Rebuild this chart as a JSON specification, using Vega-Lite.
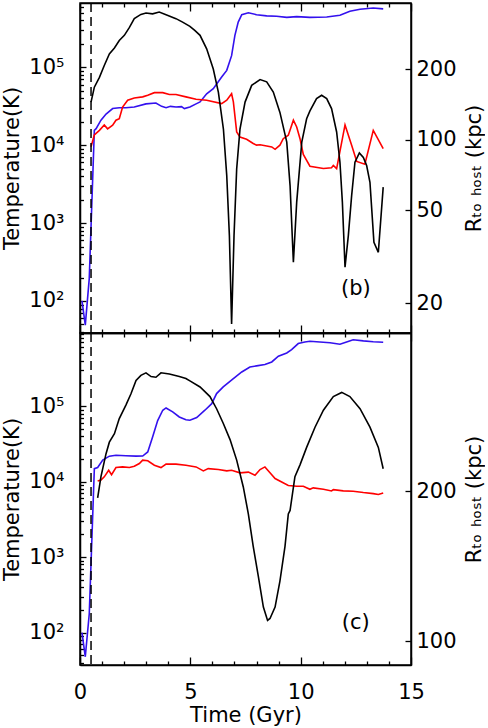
{
"$schema": "https://vega.github.io/schema/vega-lite/v6.json",
"autosize": {"type": "pad"},
"padding": {"left": 1, "top": 1, "right": 0, "bottom": 0},
"spacing": 0,
"bounds": "flush",
"config": {
  "font": "DejaVu Sans",
  "view": {"stroke": "black", "strokeWidth": 1.5},
  "axis": {"labelFont": "DejaVu Sans", "labelFontSize": 21, "labelColor": "black", "titleFont": "DejaVu Sans", "titleFontSize": 21, "titleFontWeight": "normal", "titleColor": "black", "domainColor": "black", "domainWidth": 1.5, "tickColor": "black", "tickWidth": 1.3, "grid": false, "labelFlush": false, "labelOverlap": false},
  "text": {"font": "DejaVu Sans", "fontSize": 21}
},
"datasets": {
"T": [
{"p":"b","s":"blue","t":0.09,"v":100},{"p":"b","s":"blue","t":0.24,"v":49},{"p":"b","s":"blue","t":0.42,"v":195},{"p":"b","s":"blue","t":0.65,"v":15500},{"p":"b","s":"blue","t":0.73,"v":16300},{"p":"b","s":"blue","t":0.95,"v":20900},{"p":"b","s":"blue","t":1.18,"v":25100},{"p":"b","s":"blue","t":1.48,"v":29500},{"p":"b","s":"blue","t":1.78,"v":30200},{"p":"b","s":"blue","t":2.08,"v":30200},{"p":"b","s":"blue","t":2.46,"v":30900},{"p":"b","s":"blue","t":2.99,"v":33900},{"p":"b","s":"blue","t":3.44,"v":34700},{"p":"b","s":"blue","t":3.7,"v":31500},{"p":"b","s":"blue","t":3.9,"v":30200},{"p":"b","s":"blue","t":4.1,"v":31500},{"p":"b","s":"blue","t":4.35,"v":30900},{"p":"b","s":"blue","t":4.6,"v":31200},{"p":"b","s":"blue","t":4.73,"v":29500},{"p":"b","s":"blue","t":4.98,"v":30900},{"p":"b","s":"blue","t":5.26,"v":33900},{"p":"b","s":"blue","t":5.44,"v":35900},{"p":"b","s":"blue","t":5.74,"v":45700},{"p":"b","s":"blue","t":6.04,"v":53100},{"p":"b","s":"blue","t":6.42,"v":75000},{"p":"b","s":"blue","t":6.65,"v":91200},{"p":"b","s":"blue","t":6.87,"v":141000},{"p":"b","s":"blue","t":7.02,"v":257000},{"p":"b","s":"blue","t":7.17,"v":380000},{"p":"b","s":"blue","t":7.33,"v":473000},{"p":"b","s":"blue","t":7.63,"v":501000},{"p":"b","s":"blue","t":8.0,"v":473000},{"p":"b","s":"blue","t":8.46,"v":457000},{"p":"b","s":"blue","t":8.91,"v":452000},{"p":"b","s":"blue","t":9.37,"v":437000},{"p":"b","s":"blue","t":9.82,"v":447000},{"p":"b","s":"blue","t":10.42,"v":437000},{"p":"b","s":"blue","t":11.18,"v":442000},{"p":"b","s":"blue","t":11.78,"v":465000},{"p":"b","s":"blue","t":12.23,"v":525000},{"p":"b","s":"blue","t":12.69,"v":556000},{"p":"b","s":"blue","t":13.29,"v":575000},{"p":"b","s":"blue","t":13.74,"v":562000},
{"p":"b","s":"red","t":0.5,"v":9550},{"p":"b","s":"red","t":0.65,"v":13500},{"p":"b","s":"red","t":0.88,"v":15500},{"p":"b","s":"red","t":1.1,"v":18200},{"p":"b","s":"red","t":1.25,"v":16200},{"p":"b","s":"red","t":1.48,"v":18000},{"p":"b","s":"red","t":1.63,"v":20900},{"p":"b","s":"red","t":1.78,"v":21900},{"p":"b","s":"red","t":1.93,"v":30900},{"p":"b","s":"red","t":2.16,"v":37700},{"p":"b","s":"red","t":2.46,"v":40400},{"p":"b","s":"red","t":2.84,"v":41700},{"p":"b","s":"red","t":3.07,"v":43700},{"p":"b","s":"red","t":3.37,"v":47200},{"p":"b","s":"red","t":3.75,"v":47200},{"p":"b","s":"red","t":4.05,"v":44700},{"p":"b","s":"red","t":4.35,"v":44700},{"p":"b","s":"red","t":4.8,"v":41700},{"p":"b","s":"red","t":5.26,"v":38900},{"p":"b","s":"red","t":5.74,"v":37700},{"p":"b","s":"red","t":6.42,"v":34100},{"p":"b","s":"red","t":6.65,"v":37700},{"p":"b","s":"red","t":6.87,"v":45700},{"p":"b","s":"red","t":6.95,"v":35900},{"p":"b","s":"red","t":7.1,"v":14800},{"p":"b","s":"red","t":7.25,"v":12700},{"p":"b","s":"red","t":7.55,"v":11900},{"p":"b","s":"red","t":7.85,"v":10500},{"p":"b","s":"red","t":8.0,"v":10000},{"p":"b","s":"red","t":8.16,"v":10100},{"p":"b","s":"red","t":8.46,"v":9770},{"p":"b","s":"red","t":8.69,"v":9480},{"p":"b","s":"red","t":8.84,"v":8850},{"p":"b","s":"red","t":9.06,"v":10000},{"p":"b","s":"red","t":9.21,"v":12100},{"p":"b","s":"red","t":9.44,"v":13400},{"p":"b","s":"red","t":9.67,"v":20900},{"p":"b","s":"red","t":9.82,"v":17100},{"p":"b","s":"red","t":9.97,"v":12100},{"p":"b","s":"red","t":10.12,"v":7590},{"p":"b","s":"red","t":10.42,"v":5370},{"p":"b","s":"red","t":11.03,"v":5010},{"p":"b","s":"red","t":11.4,"v":5130},{"p":"b","s":"red","t":11.48,"v":5500},{"p":"b","s":"red","t":11.63,"v":5010},{"p":"b","s":"red","t":12.01,"v":18200},{"p":"b","s":"red","t":12.31,"v":10000},{"p":"b","s":"red","t":12.54,"v":6170},{"p":"b","s":"red","t":12.91,"v":5690},{"p":"b","s":"red","t":13.29,"v":15500},{"p":"b","s":"red","t":13.74,"v":9020},
{"p":"c","s":"blue","t":0.09,"v":100},{"p":"c","s":"blue","t":0.24,"v":47.9},{"p":"c","s":"blue","t":0.42,"v":178},{"p":"c","s":"blue","t":0.65,"v":14900},{"p":"c","s":"blue","t":0.8,"v":15400},{"p":"c","s":"blue","t":1.03,"v":19300},{"p":"c","s":"blue","t":1.33,"v":21800},{"p":"c","s":"blue","t":1.63,"v":22400},{"p":"c","s":"blue","t":2.08,"v":22100},{"p":"c","s":"blue","t":2.54,"v":21800},{"p":"c","s":"blue","t":2.84,"v":21900},{"p":"c","s":"blue","t":3.07,"v":24800},{"p":"c","s":"blue","t":3.29,"v":39200},{"p":"c","s":"blue","t":3.52,"v":64600},{"p":"c","s":"blue","t":3.75,"v":88500},{"p":"c","s":"blue","t":3.9,"v":94800},{"p":"c","s":"blue","t":4.2,"v":84100},{"p":"c","s":"blue","t":4.5,"v":72100},{"p":"c","s":"blue","t":4.8,"v":66100},{"p":"c","s":"blue","t":4.98,"v":65300},{"p":"c","s":"blue","t":5.29,"v":70800},{"p":"c","s":"blue","t":5.66,"v":88500},{"p":"c","s":"blue","t":5.97,"v":108000},{"p":"c","s":"blue","t":6.19,"v":147000},{"p":"c","s":"blue","t":6.49,"v":180000},{"p":"c","s":"blue","t":6.95,"v":232000},{"p":"c","s":"blue","t":7.33,"v":284000},{"p":"c","s":"blue","t":7.7,"v":331000},{"p":"c","s":"blue","t":8.0,"v":342000},{"p":"c","s":"blue","t":8.38,"v":356000},{"p":"c","s":"blue","t":8.69,"v":386000},{"p":"c","s":"blue","t":8.99,"v":459000},{"p":"c","s":"blue","t":9.37,"v":508000},{"p":"c","s":"blue","t":9.59,"v":562000},{"p":"c","s":"blue","t":9.89,"v":676000},{"p":"c","s":"blue","t":10.19,"v":708000},{"p":"c","s":"blue","t":10.42,"v":724000},{"p":"c","s":"blue","t":10.87,"v":708000},{"p":"c","s":"blue","t":11.33,"v":692000},{"p":"c","s":"blue","t":11.78,"v":661000},{"p":"c","s":"blue","t":12.08,"v":708000},{"p":"c","s":"blue","t":12.38,"v":759000},{"p":"c","s":"blue","t":12.84,"v":733000},{"p":"c","s":"blue","t":13.29,"v":716000},{"p":"c","s":"blue","t":13.74,"v":705000},
{"p":"c","s":"red","t":0.8,"v":10200},{"p":"c","s":"red","t":0.95,"v":10500},{"p":"c","s":"red","t":1.1,"v":11600},{"p":"c","s":"red","t":1.3,"v":14200},{"p":"c","s":"red","t":1.43,"v":12400},{"p":"c","s":"red","t":1.63,"v":15400},{"p":"c","s":"red","t":1.93,"v":15700},{"p":"c","s":"red","t":2.24,"v":15400},{"p":"c","s":"red","t":2.46,"v":16000},{"p":"c","s":"red","t":2.69,"v":17400},{"p":"c","s":"red","t":2.84,"v":19300},{"p":"c","s":"red","t":3.07,"v":18900},{"p":"c","s":"red","t":3.37,"v":16500},{"p":"c","s":"red","t":3.67,"v":15400},{"p":"c","s":"red","t":3.9,"v":17100},{"p":"c","s":"red","t":4.35,"v":17100},{"p":"c","s":"red","t":4.8,"v":16500},{"p":"c","s":"red","t":5.26,"v":15700},{"p":"c","s":"red","t":5.59,"v":13900},{"p":"c","s":"red","t":5.81,"v":14900},{"p":"c","s":"red","t":6.27,"v":14500},{"p":"c","s":"red","t":6.65,"v":13900},{"p":"c","s":"red","t":6.87,"v":14200},{"p":"c","s":"red","t":7.25,"v":13100},{"p":"c","s":"red","t":7.63,"v":13400},{"p":"c","s":"red","t":7.93,"v":12200},{"p":"c","s":"red","t":8.16,"v":14500},{"p":"c","s":"red","t":8.38,"v":15700},{"p":"c","s":"red","t":8.61,"v":13100},{"p":"c","s":"red","t":8.84,"v":11000},{"p":"c","s":"red","t":9.14,"v":9930},{"p":"c","s":"red","t":9.44,"v":8910},{"p":"c","s":"red","t":9.82,"v":8710},{"p":"c","s":"red","t":10.12,"v":8710},{"p":"c","s":"red","t":10.42,"v":7940},{"p":"c","s":"red","t":10.57,"v":8280},{"p":"c","s":"red","t":11.03,"v":7940},{"p":"c","s":"red","t":11.4,"v":7550},{"p":"c","s":"red","t":11.48,"v":7850},{"p":"c","s":"red","t":11.93,"v":7550},{"p":"c","s":"red","t":12.38,"v":7480},{"p":"c","s":"red","t":12.84,"v":7180},{"p":"c","s":"red","t":13.29,"v":6950},{"p":"c","s":"red","t":13.52,"v":6760},{"p":"c","s":"red","t":13.74,"v":7080}
],
"R": [
{"p":"b","t":0.5,"v":145},{"p":"b","t":0.65,"v":168},{"p":"b","t":0.88,"v":185},{"p":"b","t":1.1,"v":208},{"p":"b","t":1.33,"v":233},{"p":"b","t":1.56,"v":247},{"p":"b","t":1.78,"v":266},{"p":"b","t":2.01,"v":280},{"p":"b","t":2.24,"v":303},{"p":"b","t":2.46,"v":330},{"p":"b","t":2.76,"v":344},{"p":"b","t":2.99,"v":349},{"p":"b","t":3.29,"v":346},{"p":"b","t":3.59,"v":352},{"p":"b","t":3.9,"v":343},{"p":"b","t":4.35,"v":330},{"p":"b","t":4.65,"v":319},{"p":"b","t":4.98,"v":306},{"p":"b","t":5.2,"v":294},{"p":"b","t":5.44,"v":280},{"p":"b","t":5.74,"v":245},{"p":"b","t":6.04,"v":201},{"p":"b","t":6.27,"v":160},{"p":"b","t":6.5,"v":111},{"p":"b","t":6.65,"v":70.3},{"p":"b","t":6.77,"v":38.9},{"p":"b","t":6.87,"v":16.3},{"p":"b","t":6.98,"v":38.9},{"p":"b","t":7.1,"v":75},{"p":"b","t":7.25,"v":111},{"p":"b","t":7.48,"v":145},{"p":"b","t":7.78,"v":171},{"p":"b","t":8.16,"v":181},{"p":"b","t":8.46,"v":177},{"p":"b","t":8.76,"v":160},{"p":"b","t":9.06,"v":131},{"p":"b","t":9.37,"v":97.7},{"p":"b","t":9.52,"v":63.7},{"p":"b","t":9.67,"v":29.9},{"p":"b","t":9.82,"v":54.1},{"p":"b","t":10.05,"v":97.7},{"p":"b","t":10.27,"v":123},{"p":"b","t":10.42,"v":133},{"p":"b","t":10.72,"v":150},{"p":"b","t":10.95,"v":155},{"p":"b","t":11.18,"v":150},{"p":"b","t":11.4,"v":136},{"p":"b","t":11.63,"v":108},{"p":"b","t":11.78,"v":80.2},{"p":"b","t":11.89,"v":54.1},{"p":"b","t":12.01,"v":28.5},{"p":"b","t":12.16,"v":38.9},{"p":"b","t":12.31,"v":57.7},{"p":"b","t":12.46,"v":80.2},{"p":"b","t":12.66,"v":87.9},{"p":"b","t":12.84,"v":84.1},{"p":"b","t":12.99,"v":77.6},{"p":"b","t":13.14,"v":65.8},{"p":"b","t":13.32,"v":36.4},{"p":"b","t":13.52,"v":33},{"p":"b","t":13.74,"v":62.7},
{"p":"c","t":0.8,"v":194},{"p":"c","t":0.95,"v":214},{"p":"c","t":1.18,"v":238},{"p":"c","t":1.33,"v":251},{"p":"c","t":1.56,"v":261},{"p":"c","t":1.78,"v":280},{"p":"c","t":2.08,"v":298},{"p":"c","t":2.31,"v":314},{"p":"c","t":2.54,"v":334},{"p":"c","t":2.76,"v":342},{"p":"c","t":2.99,"v":346},{"p":"c","t":3.22,"v":340},{"p":"c","t":3.44,"v":339},{"p":"c","t":3.67,"v":346},{"p":"c","t":4.05,"v":344},{"p":"c","t":4.5,"v":340},{"p":"c","t":4.8,"v":337},{"p":"c","t":5.0,"v":333},{"p":"c","t":5.44,"v":324},{"p":"c","t":5.89,"v":310},{"p":"c","t":6.19,"v":293},{"p":"c","t":6.49,"v":274},{"p":"c","t":6.8,"v":254},{"p":"c","t":7.1,"v":231},{"p":"c","t":7.4,"v":204},{"p":"c","t":7.63,"v":180},{"p":"c","t":7.85,"v":155},{"p":"c","t":8.08,"v":135},{"p":"c","t":8.31,"v":117},{"p":"c","t":8.5,"v":110},{"p":"c","t":8.61,"v":111},{"p":"c","t":8.84,"v":117},{"p":"c","t":9.06,"v":132},{"p":"c","t":9.29,"v":155},{"p":"c","t":9.44,"v":180},{"p":"c","t":9.52,"v":183},{"p":"c","t":9.74,"v":214},{"p":"c","t":9.97,"v":226},{"p":"c","t":10.27,"v":245},{"p":"c","t":10.65,"v":269},{"p":"c","t":11.03,"v":291},{"p":"c","t":11.48,"v":310},{"p":"c","t":11.86,"v":316},{"p":"c","t":12.23,"v":310},{"p":"c","t":12.69,"v":293},{"p":"c","t":13.14,"v":269},{"p":"c","t":13.52,"v":245},{"p":"c","t":13.74,"v":222}
]
},
"vconcat": [
{
  "width": 331, "height": 330,
  "layer": [
    {"data": {"name": "T"}, "transform": [{"filter": "datum.p == 'b'"}],
     "mark": {"type": "line", "strokeWidth": 1.6, "clip": true},
     "encoding": {
       "x": {"field": "t", "type": "quantitative", "scale": {"domain": [0, 15], "nice": false, "zero": false},
             "axis": {"orient": "bottom", "values": [0,1,2,3,4,5,6,7,8,9,10,11,12,13,14,15], "labels": false, "title": null,
                      "tickSize": {"condition": {"test": "datum.value % 5 == 0", "value": -8}, "value": -4}}},
       "y": {"field": "v", "type": "quantitative", "scale": {"type": "log", "domain": [38.8, 668000], "nice": false},
             "axis": {"orient": "left", "title": "Temperature(K)", "titlePadding": 6, "labelPadding": 22,
                      "values": [40,50,60,70,80,90,100,200,300,400,500,600,700,800,900,1000,2000,3000,4000,5000,6000,7000,8000,9000,10000,20000,30000,40000,50000,60000,70000,80000,90000,100000,200000,300000,400000,500000,600000],
                      "labelExpr": "datum.value==100?'10²':datum.value==1000?'10³':datum.value==10000?'10⁴':datum.value==100000?'10⁵':''",
                      "labelFontSize": {"condition": {"test": "datum.value==100||datum.value==1000||datum.value==10000||datum.value==100000", "value": 21}, "value": 0},
                      "tickSize": {"condition": {"test": "datum.value==100||datum.value==1000||datum.value==10000||datum.value==100000", "value": -6}, "value": -3.5}}},
       "color": {"field": "s", "type": "nominal", "scale": {"domain": ["blue", "red"], "range": ["#3311ee", "#ff0000"]}, "legend": null}
     }},
    {"data": {"name": "R"}, "transform": [{"filter": "datum.p == 'b'"}],
     "mark": {"type": "line", "strokeWidth": 1.6, "color": "black", "clip": true},
     "encoding": {
       "x": {"field": "t", "type": "quantitative", "scale": {"domain": [0, 15], "nice": false, "zero": false},
             "axis": {"orient": "top", "values": [0,1,2,3,4,5,6,7,8,9,10,11,12,13,14,15], "labels": false, "title": null,
                      "tickSize": {"condition": {"test": "datum.value % 5 == 0", "value": -8}, "value": -4}}},
       "y": {"field": "v", "type": "quantitative", "scale": {"type": "log", "domain": [14.9, 385], "nice": false},
             "axis": {"orient": "right", "values": [20, 50, 100, 200], "format": "d", "tickSize": -6, "labelPadding": 11,
                      "title": "Rₜₒ ₕₒₛₜ (kpc)", "titleAngle": 270, "titlePadding": 28}}
     }},
    {"data": {"values": [{"t": 0.5}]},
     "mark": {"type": "rule", "strokeDash": [9, 5], "strokeWidth": 1.5, "color": "black"},
     "encoding": {"x": {"field": "t", "type": "quantitative", "axis": null}}},
    {"data": {"values": [{"t": 12.5, "v": 142, "label": "(b)"}]},
     "mark": {"type": "text", "fontSize": 21, "color": "black"},
     "encoding": {
       "x": {"field": "t", "type": "quantitative", "axis": null},
       "y": {"field": "v", "type": "quantitative", "scale": {"type": "log", "domain": [38.8, 668000], "nice": false}, "axis": null},
       "text": {"field": "label"}}}
  ],
  "resolve": {"scale": {"y": "independent"}, "axis": {"x": "independent", "y": "independent"}}
},
{
  "width": 331, "height": 332,
  "layer": [
    {"data": {"name": "T"}, "transform": [{"filter": "datum.p == 'c'"}],
     "mark": {"type": "line", "strokeWidth": 1.6, "clip": true},
     "encoding": {
       "x": {"field": "t", "type": "quantitative", "scale": {"domain": [0, 15], "nice": false, "zero": false},
             "axis": {"orient": "bottom", "values": [0,1,2,3,4,5,6,7,8,9,10,11,12,13,14,15], "labelPadding": 24,
                      "labelExpr": "datum.value % 5 == 0 ? datum.label : ''", "title": "Time (Gyr)", "titlePadding": 2,
                      "labelFontSize": {"condition": {"test": "datum.value % 5 == 0", "value": 21}, "value": 0},
                      "tickSize": {"condition": {"test": "datum.value % 5 == 0", "value": -8}, "value": -4}}},
       "y": {"field": "v", "type": "quantitative", "scale": {"type": "log", "domain": [37.3, 933000], "nice": false},
             "axis": {"orient": "left", "title": "Temperature(K)", "titlePadding": 6, "labelPadding": 22,
                      "values": [40,50,60,70,80,90,100,200,300,400,500,600,700,800,900,1000,2000,3000,4000,5000,6000,7000,8000,9000,10000,20000,30000,40000,50000,60000,70000,80000,90000,100000,200000,300000,400000,500000,600000,700000,800000,900000],
                      "labelExpr": "datum.value==100?'10²':datum.value==1000?'10³':datum.value==10000?'10⁴':datum.value==100000?'10⁵':''",
                      "labelFontSize": {"condition": {"test": "datum.value==100||datum.value==1000||datum.value==10000||datum.value==100000", "value": 21}, "value": 0},
                      "tickSize": {"condition": {"test": "datum.value==100||datum.value==1000||datum.value==10000||datum.value==100000", "value": -6}, "value": -3.5}}},
       "color": {"field": "s", "type": "nominal", "scale": {"domain": ["blue", "red"], "range": ["#3311ee", "#ff0000"]}, "legend": null}
     }},
    {"data": {"name": "R"}, "transform": [{"filter": "datum.p == 'c'"}],
     "mark": {"type": "line", "strokeWidth": 1.6, "color": "black", "clip": true},
     "encoding": {
       "x": {"field": "t", "type": "quantitative", "scale": {"domain": [0, 15], "nice": false, "zero": false},
             "axis": {"orient": "top", "values": [0,1,2,3,4,5,6,7,8,9,10,11,12,13,14,15], "labels": false, "title": null,
                      "tickSize": {"condition": {"test": "datum.value % 5 == 0", "value": -8}, "value": -4}}},
       "y": {"field": "v", "type": "quantitative", "scale": {"type": "log", "domain": [89.5, 416], "nice": false},
             "axis": {"orient": "right", "values": [100, 200], "format": "d", "tickSize": -6, "labelPadding": 11,
                      "title": "Rₜₒ ₕₒₛₜ (kpc)", "titleAngle": 270, "titlePadding": 28}}
     }},
    {"data": {"values": [{"t": 0.5}]},
     "mark": {"type": "rule", "strokeDash": [9, 5], "strokeWidth": 1.5, "color": "black"},
     "encoding": {"x": {"field": "t", "type": "quantitative", "axis": null}}},
    {"data": {"values": [{"t": 12.5, "v": 135, "label": "(c)"}]},
     "mark": {"type": "text", "fontSize": 21, "color": "black"},
     "encoding": {
       "x": {"field": "t", "type": "quantitative", "axis": null},
       "y": {"field": "v", "type": "quantitative", "scale": {"type": "log", "domain": [37.3, 933000], "nice": false}, "axis": null},
       "text": {"field": "label"}}}
  ],
  "resolve": {"scale": {"y": "independent"}, "axis": {"x": "independent", "y": "independent"}}
}
]
}
